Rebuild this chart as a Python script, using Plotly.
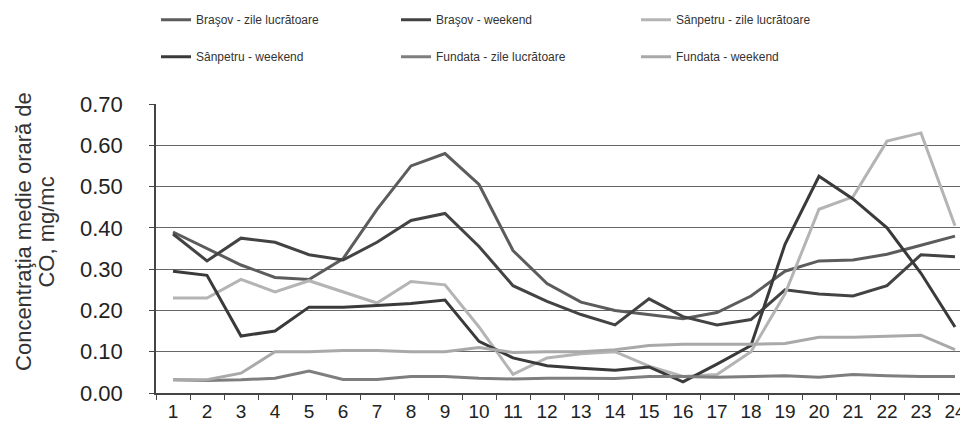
import plotly.graph_objects as go

hours = [str(h) for h in range(1, 25)]

brasov_zile = [0.39, 0.35, 0.31, 0.28, 0.275, 0.325, 0.445, 0.55, 0.58, 0.505, 0.345, 0.265,
               0.22, 0.20, 0.19, 0.18, 0.195, 0.235, 0.295, 0.32, 0.322, 0.336, 0.358, 0.38]
brasov_weekend = [0.385, 0.32, 0.375, 0.365, 0.335, 0.322, 0.365, 0.418, 0.435, 0.355, 0.26, 0.222,
                  0.19, 0.165, 0.228, 0.185, 0.165, 0.178, 0.25, 0.24, 0.235, 0.26, 0.335, 0.33]
sanpetru_zile = [0.23, 0.23, 0.275, 0.245, 0.272, 0.245, 0.218, 0.27, 0.262, 0.16, 0.045, 0.085,
                 0.095, 0.10, 0.065, 0.04, 0.045, 0.10, 0.24, 0.445, 0.475, 0.61, 0.63, 0.405]
sanpetru_weekend = [0.295, 0.285, 0.138, 0.15, 0.208, 0.208, 0.212, 0.217, 0.225, 0.125, 0.085, 0.066,
                    0.06, 0.055, 0.063, 0.027, 0.07, 0.115, 0.36, 0.525, 0.47, 0.40, 0.29, 0.16]
fundata_zile = [0.032, 0.03, 0.032, 0.036, 0.053, 0.033, 0.033, 0.04, 0.04, 0.036, 0.034, 0.036,
                0.036, 0.035, 0.04, 0.04, 0.038, 0.04, 0.042, 0.038, 0.045, 0.042, 0.04, 0.04]
fundata_weekend = [0.032, 0.032, 0.048, 0.10, 0.10, 0.103, 0.103, 0.10, 0.10, 0.11, 0.098, 0.10,
                   0.10, 0.105, 0.115, 0.118, 0.118, 0.118, 0.12, 0.135, 0.135, 0.138, 0.14, 0.105]

y_title_lines = ["Concentraţia medie orară de", "CO, mg/mc"]

# (name, values, colour, legend row)
SERIES = [
    ("Braşov - zile lucrătoare", brasov_zile, "#5c5c5c", "legend"),
    ("Braşov - weekend", brasov_weekend, "#434343", "legend"),
    ("Sânpetru - zile lucrătoare", sanpetru_zile, "#b4b4b4", "legend"),
    ("Sânpetru - weekend", sanpetru_weekend, "#3a3a3a", "legend2"),
    ("Fundata - zile lucrătoare", fundata_zile, "#7e7e7e", "legend2"),
    ("Fundata - weekend", fundata_weekend, "#a9a9a9", "legend2"),
]

FONT = "Liberation Sans, Arial, sans-serif"
NARROW = "Liberation Sans Narrow, Arial Narrow, Liberation Sans, sans-serif"

fig = go.Figure()
for name, vals, color, leg in SERIES:
    fig.add_trace(go.Scatter(
        x=hours, y=vals, name=name, mode="lines",
        line=dict(color=color, width=3),
        legend=leg,
    ))

legend_common = dict(
    orientation="h",
    xanchor="left", yanchor="top",
    entrywidth=195, entrywidthmode="pixels",
    font=dict(family=NARROW, size=12, color="#333"),
    bgcolor="rgba(0,0,0,0)",
)

# two stacked rotated lines for the y title, placed left of the plot
title_x = [-0.153, -0.129]
title_shift = [-7, -4]
annotations = [
    dict(text=txt, textangle=-90, xref="paper", yref="paper",
         x=tx, y=0.53, xanchor="center", yanchor="middle", showarrow=False,
         xshift=sh, yshift=8,
         font=dict(family=FONT, size=22, color="#333"))
    for txt, tx, sh in zip(y_title_lines, title_x, title_shift)
]

fig.update_layout(
    width=968, height=423,
    paper_bgcolor="white", plot_bgcolor="white",
    margin=dict(l=148, r=4, t=96, b=38, autoexpand=False),
    font=dict(family=FONT, color="#222"),
    legend=dict(**legend_common, x=0.0, y=1.342),
    legend2=dict(**legend_common, x=0.0, y=1.214),
    annotations=annotations,
)

fig.update_xaxes(
    type="category", range=[-0.5, 23.5], showgrid=False, tickson="boundaries",
    ticks="outside", ticklen=5, tickcolor="#444",
    showline=True, linecolor="#444", linewidth=1.5,
    tickfont=dict(family=FONT, size=19, color="#222"),
)
fig.update_yaxes(
    range=[0, 0.7], dtick=0.1, tickformat=".2f",
    showgrid=True, gridcolor="#666", gridwidth=1,
    zeroline=False, ticks="outside", ticklen=5, tickcolor="#444",
    ticklabelstandoff=22,
    showline=True, linecolor="#444", linewidth=1.5,
    tickfont=dict(family=FONT, size=22, color="#222"),
)

fig.write_html("out.html")
